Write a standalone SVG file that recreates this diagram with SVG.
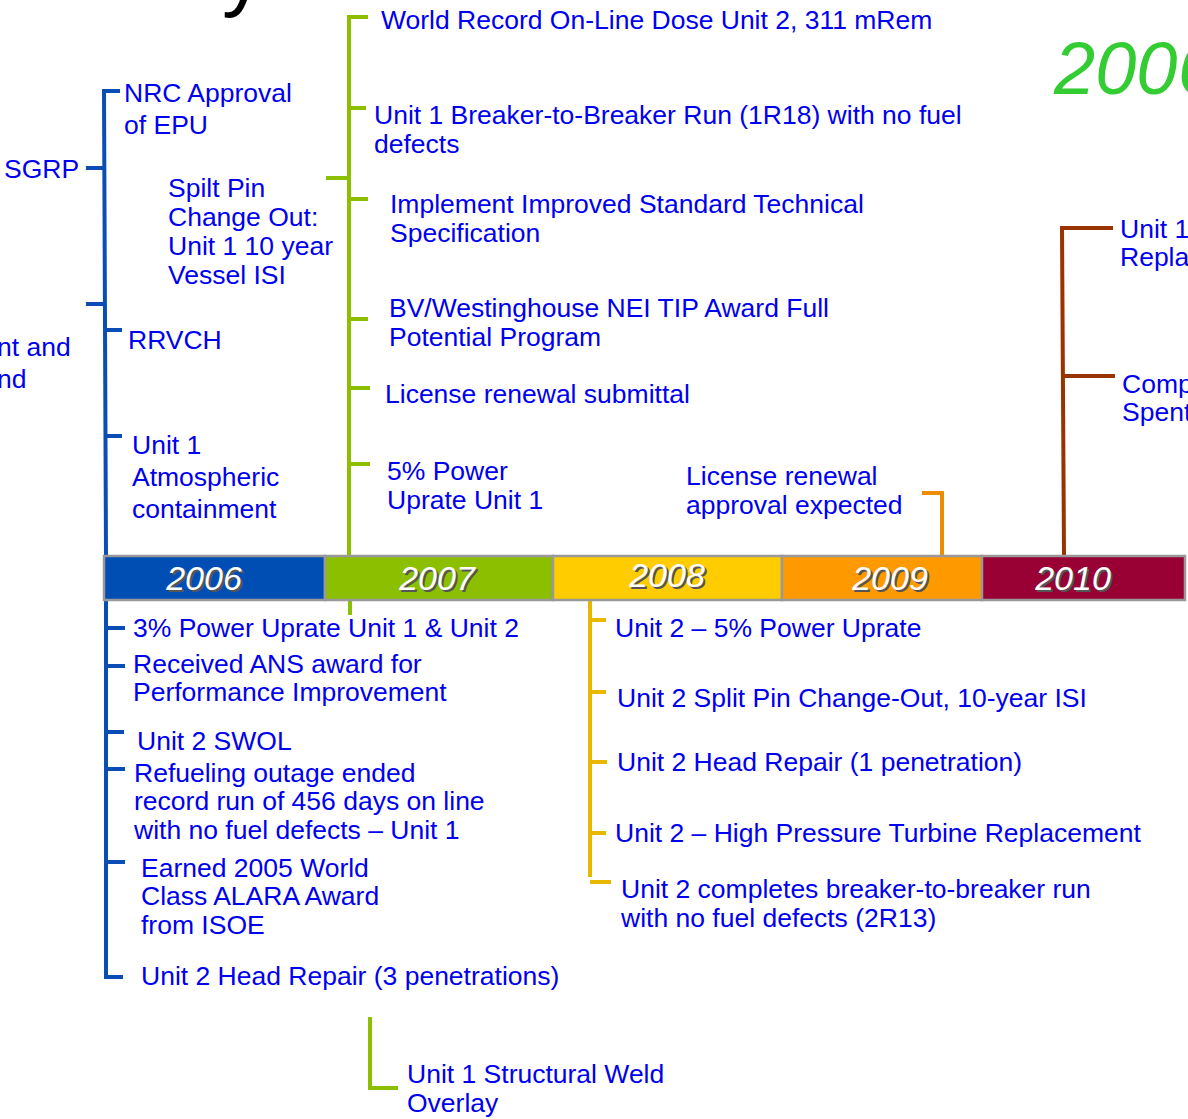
<svg xmlns="http://www.w3.org/2000/svg" width="1188" height="1119" viewBox="0 0 1188 1119">
<style>
.t{font-family:"Liberation Sans",Arial,sans-serif;font-size:26.5px;fill:#0000F0}
.yr{font-family:"Liberation Sans",Arial,sans-serif;font-size:34px;font-style:italic;fill:#fff;text-anchor:middle}
.ys{font-family:"Liberation Sans",Arial,sans-serif;font-size:34px;font-style:italic;fill:#555;text-anchor:middle}
.b{fill:none;stroke:#0A4DB5;stroke-width:4}
.g{fill:none;stroke:#8CBF00;stroke-width:4}
.y{fill:none;stroke:#E8B800;stroke-width:4}
.o{fill:none;stroke:#EE8C00;stroke-width:4}
.r{fill:none;stroke:#993300;stroke-width:4}
.seg{stroke:#999;stroke-width:2.5}
</style>
<rect width="1188" height="1119" fill="#fff"/>
<text x="222" y="1" font-family="Liberation Sans,Arial,sans-serif" font-size="84" fill="#000">y</text>
<text x="1054" y="94" font-family="Liberation Sans,Arial,sans-serif" font-size="74" font-style="italic" fill="#33CC33">2006</text>

<g id="connectors">
  <path class="b" d="M120 91 H104 L106 556"/>
  <path class="b" d="M86 168 H104"/>
  <path class="b" d="M86 304 H105"/>
  <path class="b" d="M105 330 H122"/>
  <path class="b" d="M106 436 H122"/>
  <path class="b" d="M106 600 V977 H123"/>
  <path class="b" d="M106 628 H125"/>
  <path class="b" d="M106 666 H125"/>
  <path class="b" d="M106 732 H124"/>
  <path class="b" d="M106 769 H125"/>
  <path class="b" d="M106 862 H125"/>
  <path class="g" d="M368 17 H349 V556"/>
  <path class="g" d="M349 108 H366"/>
  <path class="g" d="M326 178 H349"/>
  <path class="g" d="M349 199 H368"/>
  <path class="g" d="M349 319 H368"/>
  <path class="g" d="M349 388 H370"/>
  <path class="g" d="M349 464 H370"/>
  <path class="g" d="M350 600 V615"/>
  <path class="g" d="M370 1017 V1088 H398"/>
  <path class="y" d="M590 600 V877"/>
  <path class="y" d="M590 620 H606"/>
  <path class="y" d="M590 692 H606"/>
  <path class="y" d="M590 762 H607"/>
  <path class="y" d="M590 833 H606"/>
  <path class="y" d="M590 882 H611"/>
  <path class="o" d="M922 493 H942 V556"/>
  <path class="r" d="M1113 228 H1062 L1064 556"/>
  <path class="r" d="M1064 376 H1115"/>
</g>

<g id="timeline">
  <rect class="seg" x="104" y="556" width="221" height="44" fill="#004DB3"/>
  <rect class="seg" x="325" y="556" width="228" height="44" fill="#8CBF00"/>
  <rect class="seg" x="553" y="556" width="229" height="44" fill="#FFCC00"/>
  <rect class="seg" x="782" y="556" width="200" height="44" fill="#FF9900"/>
  <rect class="seg" x="982" y="556" width="203" height="44" fill="#990033"/>
  <text class="ys" x="206" y="592">2006</text><text class="yr" x="204" y="590">2006</text>
  <text class="ys" x="439" y="592">2007</text><text class="yr" x="437" y="590">2007</text>
  <text class="ys" x="669" y="589">2008</text><text class="yr" x="667" y="587">2008</text>
  <text class="ys" x="892" y="592">2009</text><text class="yr" x="890" y="590">2009</text>
  <text class="ys" x="1075" y="592">2010</text><text class="yr" x="1073" y="590">2010</text>
</g>

<g id="n-nrc"><text class="t" x="124" y="102">NRC Approval</text><text class="t" x="124" y="134">of EPU</text></g>
<g id="n-sgrp"><text class="t" x="4" y="178">SGRP</text></g>
<g id="n-ntand"><text class="t" x="-3" y="356">nt and</text><text class="t" x="-3" y="388">nd</text></g>
<g id="n-rrvch"><text class="t" x="128" y="349">RRVCH</text></g>
<g id="n-atm"><text class="t" x="132" y="454">Unit 1</text><text class="t" x="132" y="486">Atmospheric</text><text class="t" x="132" y="518">containment</text></g>
<g id="n-spilt"><text class="t" x="168" y="197">Spilt Pin</text><text class="t" x="168" y="226">Change Out:</text><text class="t" x="168" y="255">Unit 1 10 year</text><text class="t" x="168" y="284">Vessel ISI</text></g>

<g id="n-world"><text class="t" x="381" y="29">World Record On-Line Dose Unit 2, 311 mRem</text></g>
<g id="n-b2b"><text class="t" x="374" y="124">Unit 1 Breaker-to-Breaker Run (1R18) with no fuel</text><text class="t" x="374" y="153">defects</text></g>
<g id="n-its"><text class="t" x="390" y="213">Implement Improved Standard Technical</text><text class="t" x="390" y="242">Specification</text></g>
<g id="n-bv"><text class="t" x="389" y="317">BV/Westinghouse NEI TIP Award Full</text><text class="t" x="389" y="346">Potential Program</text></g>
<g id="n-lrs"><text class="t" x="385" y="403">License renewal submittal</text></g>
<g id="n-5pu1"><text class="t" x="387" y="480">5% Power</text><text class="t" x="387" y="509">Uprate Unit 1</text></g>
<g id="n-lra"><text class="t" x="686" y="485">License renewal</text><text class="t" x="686" y="514">approval expected</text></g>
<g id="n-u1r"><text class="t" x="1120" y="238">Unit 1</text><text class="t" x="1120" y="266">Repla</text></g>
<g id="n-comp"><text class="t" x="1122" y="393">Comp</text><text class="t" x="1122" y="421">Spent</text></g>

<g id="n-3pu"><text class="t" x="133" y="637">3% Power Uprate Unit 1 &amp; Unit 2</text></g>
<g id="n-ans"><text class="t" x="133" y="673">Received ANS award for</text><text class="t" x="133" y="701">Performance Improvement</text></g>
<g id="n-swol"><text class="t" x="137" y="750">Unit 2 SWOL</text></g>
<g id="n-refuel"><text class="t" x="134" y="782">Refueling outage ended</text><text class="t" x="134" y="810">record run of 456 days on line</text><text class="t" x="134" y="839">with no fuel defects – Unit 1</text></g>
<g id="n-alara"><text class="t" x="141" y="877">Earned 2005 World</text><text class="t" x="141" y="905">Class ALARA Award</text><text class="t" x="141" y="934">from ISOE</text></g>
<g id="n-hr3"><text class="t" x="141" y="985">Unit 2 Head Repair (3 penetrations)</text></g>
<g id="n-swo"><text class="t" x="407" y="1083">Unit 1 Structural Weld</text><text class="t" x="407" y="1112">Overlay</text></g>

<g id="n-u2pu"><text class="t" x="615" y="637">Unit 2 – 5% Power Uprate</text></g>
<g id="n-u2sp"><text class="t" x="617" y="707">Unit 2 Split Pin Change-Out, 10-year ISI</text></g>
<g id="n-u2hr"><text class="t" x="617" y="771">Unit 2 Head Repair (1 penetration)</text></g>
<g id="n-u2hp"><text class="t" x="615" y="842">Unit 2 – High Pressure Turbine Replacement</text></g>
<g id="n-u2b2b"><text class="t" x="621" y="898">Unit 2 completes breaker-to-breaker run</text><text class="t" x="621" y="927">with no fuel defects (2R13)</text></g>
</svg>
